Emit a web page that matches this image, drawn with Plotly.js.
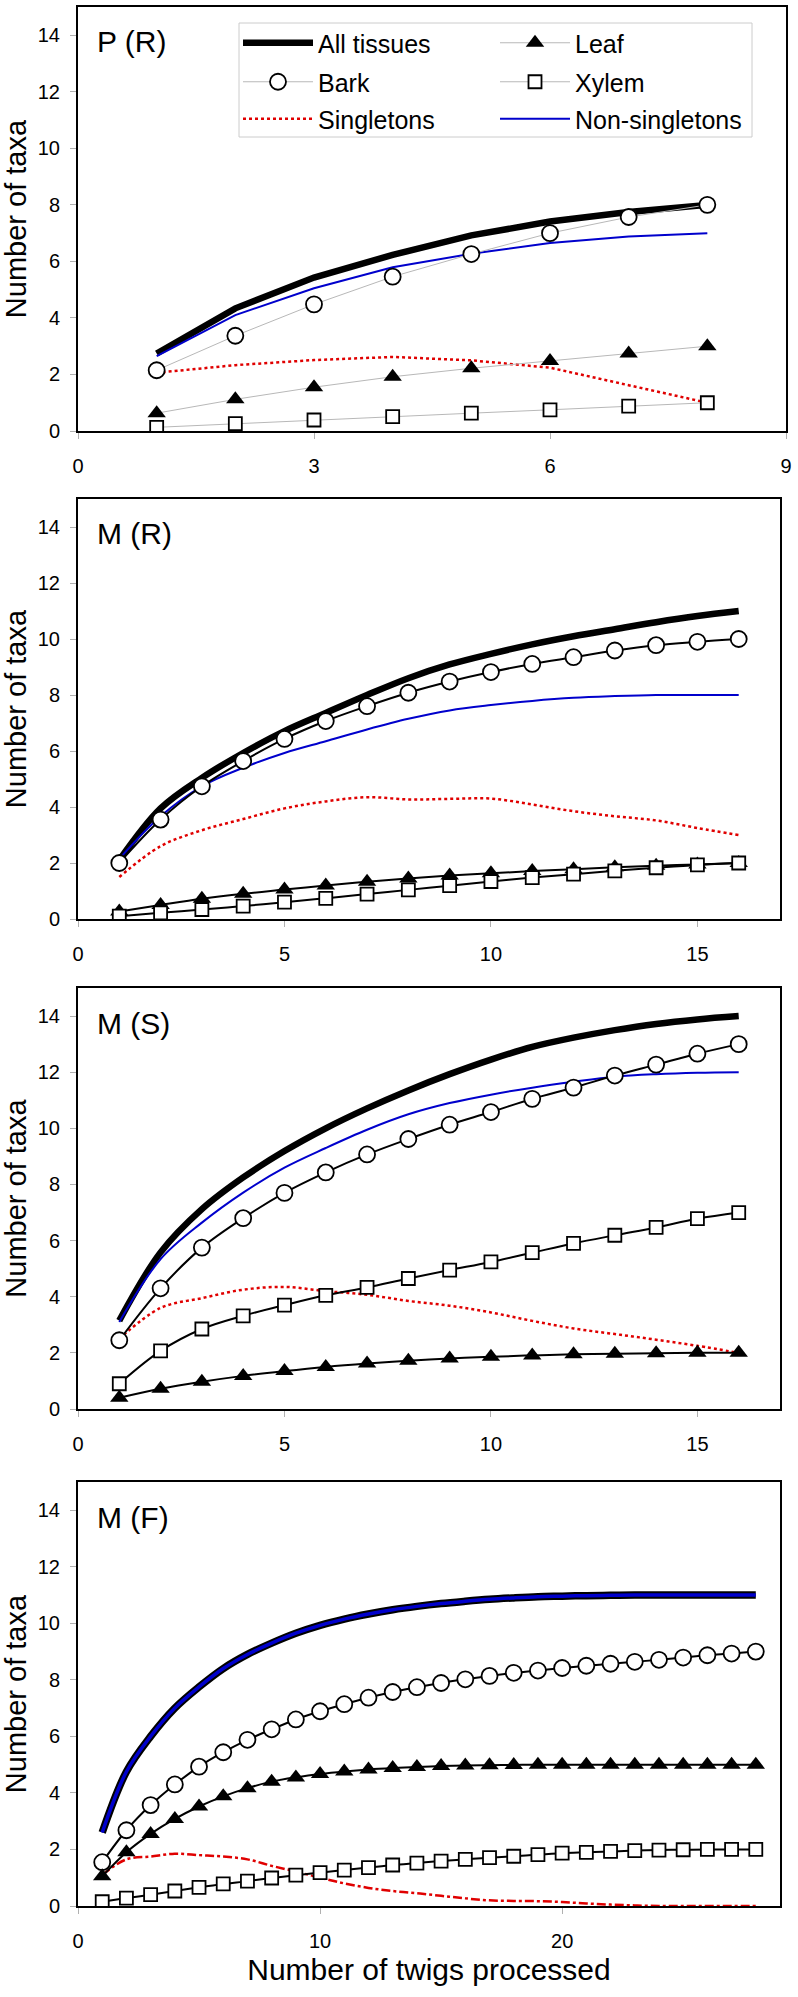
<!DOCTYPE html>
<html><head><meta charset="utf-8">
<script src="https://cdn.plot.ly/plotly-3.0.1.min.js"></script>
<style>html,body{margin:0;padding:0;background:#fff}#chart{width:798px;height:1997px}</style>
</head><body><div id="chart"></div>
<script>
// ---------- DATA ----------
const panelLabels = ['P (R)', 'M (R)', 'M (S)', 'M (F)'];
const seriesNames = ['All tissues', 'Leaf', 'Bark', 'Xylem', 'Singletons', 'Non-singletons'];
const yTitle = 'Number of taxa';
const xTitle = 'Number of twigs processed';
const yTicks = [0, 2, 4, 6, 8, 10, 12, 14];
const xTicksPR = [0, 3, 6, 9];
const xTicksM = [0, 5, 10, 15];
const xTicksF = [0, 10, 20];

// P (R)
const twigsPR = [1, 2, 3, 4, 5, 6, 7, 8];
const allPR   = [2.74, 4.34, 5.43, 6.23, 6.92, 7.41, 7.75, 8.0];
const barkPR  = [2.15, 3.37, 4.48, 5.46, 6.26, 7.0, 7.57, 8.0];
const leafPR  = [0.63, 1.12, 1.55, 1.92, 2.22, 2.48, 2.74, 3.0];
const xylemPR = [0.13, 0.26, 0.39, 0.51, 0.63, 0.75, 0.88, 1.0];
const singPR  = [2.06, 2.33, 2.51, 2.62, 2.5, 2.24, 1.62, 1.0];
const nonPR   = [2.65, 4.1, 5.05, 5.79, 6.27, 6.65, 6.88, 7.0];

// M (R)
const twigsMR = [1, 2, 3, 4, 5, 6, 7, 8, 9, 10, 11, 12, 13, 14, 15, 16];
const allMR   = [2.1, 3.95, 5.04, 5.93, 6.71, 7.36, 8.0, 8.6, 9.09, 9.47, 9.81, 10.1, 10.35, 10.6, 10.82, 11.0];
const barkMR  = [2.0, 3.55, 4.74, 5.64, 6.43, 7.07, 7.6, 8.08, 8.48, 8.82, 9.11, 9.35, 9.59, 9.78, 9.9, 10.0];
const leafMR  = [0.27, 0.5, 0.72, 0.9, 1.05, 1.2, 1.33, 1.45, 1.55, 1.63, 1.71, 1.78, 1.85, 1.9, 1.95, 2.0];
const xylemMR = [0.1, 0.22, 0.34, 0.46, 0.6, 0.74, 0.89, 1.04, 1.19, 1.34, 1.48, 1.6, 1.72, 1.83, 1.93, 2.0];
const singMR  = [1.5, 2.6, 3.17, 3.57, 3.95, 4.2, 4.35, 4.27, 4.29, 4.3, 4.09, 3.85, 3.67, 3.52, 3.25, 3.0];
const nonMR   = [2.15, 3.67, 4.74, 5.4, 5.93, 6.35, 6.77, 7.15, 7.45, 7.64, 7.79, 7.9, 7.96, 8.0, 8.0, 8.0];

// M (S)
const twigsMS = [1, 2, 3, 4, 5, 6, 7, 8, 9, 10, 11, 12, 13, 14, 15, 16];
const allMS   = [3.15, 5.58, 7.12, 8.25, 9.19, 10.0, 10.71, 11.35, 11.93, 12.45, 12.9, 13.23, 13.5, 13.72, 13.88, 14.0];
const barkMS  = [2.45, 4.3, 5.75, 6.8, 7.7, 8.43, 9.07, 9.62, 10.13, 10.58, 11.05, 11.45, 11.88, 12.27, 12.66, 13.0];
const leafMS  = [0.4, 0.72, 0.97, 1.18, 1.35, 1.5, 1.62, 1.72, 1.8, 1.86, 1.91, 1.95, 1.97, 1.99, 2.0, 2.0];
const xylemMS = [0.9, 2.07, 2.85, 3.32, 3.7, 4.05, 4.33, 4.65, 4.95, 5.24, 5.57, 5.9, 6.19, 6.47, 6.78, 7.0];
const singMS  = [2.5, 3.6, 3.95, 4.25, 4.35, 4.2, 4.07, 3.85, 3.68, 3.44, 3.14, 2.87, 2.67, 2.47, 2.25, 2.0];
const nonMS   = [3.1, 5.34, 6.64, 7.71, 8.6, 9.3, 9.95, 10.5, 10.9, 11.2, 11.45, 11.66, 11.84, 11.93, 11.98, 12.0];

// M (F)
const twigsMF = [1, 2, 3, 4, 5, 6, 7, 8, 9, 10, 11, 12, 13, 14, 15, 16, 17, 18, 19, 20, 21, 22, 23, 24, 25, 26, 27, 28];
const allMF   = [2.6, 4.75, 6.0, 7.0, 7.75, 8.4, 8.9, 9.3, 9.65, 9.93, 10.15, 10.33, 10.48, 10.6, 10.7, 10.78, 10.85, 10.9, 10.94, 10.96, 10.98, 10.99, 11, 11, 11, 11, 11, 11];
const barkMF  = [1.55, 2.68, 3.57, 4.3, 4.93, 5.44, 5.88, 6.25, 6.6, 6.89, 7.14, 7.37, 7.57, 7.74, 7.89, 8.02, 8.14, 8.25, 8.33, 8.42, 8.5, 8.57, 8.64, 8.71, 8.79, 8.87, 8.93, 9.0];
const leafMF  = [1.05, 1.9, 2.55, 3.08, 3.52, 3.88, 4.17, 4.4, 4.55, 4.67, 4.76, 4.83, 4.88, 4.92, 4.95, 4.97, 4.98, 4.99, 5, 5, 5, 5, 5, 5, 5, 5, 5, 5];
const xylemMF = [0.15, 0.28, 0.4, 0.53, 0.66, 0.78, 0.88, 0.99, 1.09, 1.18, 1.27, 1.36, 1.45, 1.52, 1.59, 1.65, 1.71, 1.76, 1.82, 1.87, 1.9, 1.93, 1.96, 1.98, 1.99, 2, 2, 2];
const singMF  = [1.1, 1.65, 1.75, 1.85, 1.8, 1.75, 1.65, 1.42, 1.22, 1.0, 0.8, 0.64, 0.53, 0.45, 0.36, 0.27, 0.2, 0.18, 0.17, 0.14, 0.09, 0.05, 0.02, 0, 0, 0, 0, 0];
const nonMF   = [2.6, 4.75, 6.0, 7.0, 7.75, 8.4, 8.9, 9.3, 9.65, 9.93, 10.15, 10.33, 10.48, 10.6, 10.7, 10.78, 10.85, 10.9, 10.94, 10.96, 10.98, 10.99, 11, 11, 11, 11, 11, 11];

// ---------- GEOMETRY (pixels) ----------
const W = 798, H = 1997;
const PL = 78, PR = 786, PT = 7, PB = 1906;
const panelsPx = [
  {top: 7,    bottom: 431,  right: 786},
  {top: 499,  bottom: 919,  right: 780},
  {top: 988,  bottom: 1409, right: 780},
  {top: 1482, bottom: 1906, right: 780}
];
const pw = PR - PL, ph = PB - PT;
const fx = px => (px - PL) / pw;
const fy = py => (PB - py) / ph;

const FONT = 'Liberation Sans, Arial, Helvetica, sans-serif';
const BLUE = '#0000cc', RED = '#e00000', GRAY = '#b8b8b8';

const panels = [
  {x: twigsPR, all: allPR, bark: barkPR, leaf: leafPR, xylem: xylemPR, sing: singPR, non: nonPR, range: [0, 9], ticks: xTicksPR, first: true},
  {x: twigsMR, all: allMR, bark: barkMR, leaf: leafMR, xylem: xylemMR, sing: singMR, non: nonMR, range: [0, 17], ticks: xTicksM},
  {x: twigsMS, all: allMS, bark: barkMS, leaf: leafMS, xylem: xylemMS, sing: singMS, non: nonMS, range: [0, 17], ticks: xTicksM},
  {x: twigsMF, all: allMF, bark: barkMF, leaf: leafMF, xylem: xylemMF, sing: singMF, non: nonMF, range: [0, 29], ticks: xTicksF, last: true}
];

const traces = [];
const layout = {
  width: W, height: H,
  margin: {l: PL, r: W - PR, t: PT, b: H - PB},
  paper_bgcolor: '#fff', plot_bgcolor: '#fff',
  font: {family: FONT, color: '#000'},
  showlegend: true,
  annotations: [], shapes: []
};

panels.forEach((p, i) => {
  const n = i + 1;
  const xa = 'x' + (n === 1 ? '' : n), ya = 'y' + (n === 1 ? '' : n);
  const first = !!p.first;
  const lineShape = first ? 'linear' : 'spline';
  const connColor = first ? GRAY : '#000';
  const connW = first ? 1 : 2;
  const base = {type: 'scatter', xaxis: xa, yaxis: ya, showlegend: first};

  traces.push(Object.assign({}, base, {name: seriesNames[0], x: p.x, y: p.all, mode: 'lines',
    line: {color: '#000', width: i === 3 ? 7.5 : 6.5, shape: lineShape}, legend: 'legend'}));
  traces.push(Object.assign({}, base, {name: seriesNames[4], x: p.x, y: p.sing, mode: 'lines',
    line: {color: RED, width: 2.5, dash: i === 3 ? 'dashdot' : 'dot', shape: lineShape}, legend: 'legend3'}));
  traces.push(Object.assign({}, base, {name: seriesNames[5], x: p.x, y: p.non, mode: 'lines',
    line: {color: BLUE, width: i === 3 ? 3.5 : 2, shape: lineShape}, legend: 'legend3'}));
  traces.push(Object.assign({}, base, {name: seriesNames[2], x: p.x, y: p.bark, mode: 'lines+markers',
    line: {color: connColor, width: connW, shape: lineShape},
    marker: {symbol: 'circle', size: 16, color: '#fff', line: {color: '#000', width: 1.8}}, legend: 'legend2'}));
  traces.push(Object.assign({}, base, {name: seriesNames[1], x: p.x, y: p.leaf, mode: 'lines+markers',
    line: {color: connColor, width: connW, shape: lineShape},
    marker: {symbol: 'triangle-up', size: 16, color: '#000', line: {color: '#000', width: 0}}, legend: 'legend'}));
  traces.push(Object.assign({}, base, {name: seriesNames[3], x: p.x, y: p.xylem, mode: 'lines+markers',
    line: {color: connColor, width: connW, shape: lineShape},
    marker: {symbol: 'square', size: 13, color: '#fff', line: {color: '#000', width: 1.8}}, legend: 'legend2'}));

  const g = panelsPx[i];
  layout['xaxis' + (n === 1 ? '' : n)] = {
    anchor: ya, domain: [0, fx(g.right)], range: p.range, tickvals: p.ticks,
    showline: true, mirror: true, linecolor: '#000', linewidth: 2,
    ticks: 'outside', ticklen: 6, tickcolor: '#b0b0b0', tickwidth: 1,
    showgrid: false, zeroline: false, tickfont: {family: FONT, size: 20, color: '#000'},
    ticklabelstandoff: 10, automargin: false,
    title: p.last ? {text: xTitle, font: {family: FONT, size: 30, color: '#000'}, standoff: 8} : {text: ''}
  };
  layout['yaxis' + (n === 1 ? '' : n)] = {
    anchor: xa, domain: [fy(g.bottom), fy(g.top)], range: [0, 15], tickvals: yTicks,
    showline: true, mirror: true, linecolor: '#000', linewidth: 2,
    ticks: 'outside', ticklen: 6, tickcolor: '#b0b0b0', tickwidth: 1,
    showgrid: false, zeroline: false, tickfont: {family: FONT, size: 20, color: '#000'},
    ticklabelstandoff: 6, automargin: false,
    title: {text: yTitle, font: {family: FONT, size: 29, color: '#000'}, standoff: 5}
  };
  layout.annotations.push({
    text: panelLabels[i], xref: 'paper', yref: 'paper', x: fx(95), y: fy(g.top + 35),
    xanchor: 'left', yanchor: 'middle', showarrow: false, font: {family: FONT, size: 30, color: '#000'}
  });
});

// legend box (three rows, two columns)
const legRows = [43, 82, 119];
['legend', 'legend2', 'legend3'].forEach((k, r) => {
  layout[k] = {
    orientation: 'h', x: fx(238), xanchor: 'left', y: fy(legRows[r]), yanchor: 'middle',
    bgcolor: 'rgba(0,0,0,0)', borderwidth: 0, font: {family: FONT, size: 25, color: '#000'},
    itemwidth: 70, entrywidth: 172, itemsizing: 'trace', itemclick: false, itemdoubleclick: false
  };
});
layout.shapes.push({type: 'rect', xref: 'paper', yref: 'paper', x0: fx(239), x1: fx(752), y0: fy(137), y1: fy(23),
  line: {color: '#cccccc', width: 1}, fillcolor: 'rgba(0,0,0,0)', layer: 'below'});

Plotly.newPlot('chart', traces, layout, {staticPlot: true, displayModeBar: false});
</script>
</body></html>
